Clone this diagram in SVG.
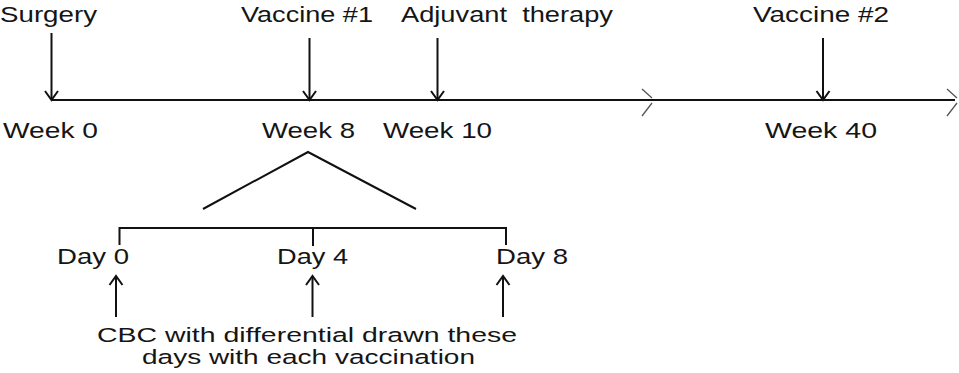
<svg xmlns="http://www.w3.org/2000/svg" width="959" height="373" viewBox="0 0 959 373">
<style>
text{font-family:"Liberation Sans",Arial,sans-serif;font-size:22.5px;fill:#151515}
.note{font-size:20.5px}
.ln{stroke:#111;stroke-width:2;fill:none}
.ar{stroke:#111;stroke-width:2;fill:none;marker-end:url(#ah)}
.brk{stroke:#555;stroke-width:1.3;fill:none}
</style>
<defs>
<marker id="ah" markerUnits="userSpaceOnUse" markerWidth="20" markerHeight="20" viewBox="-10 -10 20 20" refX="0" refY="0" orient="auto">
<path d="M-9,-6.5 L0,0 L-9,6.5" fill="none" stroke="#111" stroke-width="2"/>
</marker>
</defs>
<rect width="959" height="373" fill="#fff"/>
<g id="connectors">
<line class="ln" x1="52" y1="100" x2="955" y2="100"/>
<path class="brk" d="M642,89 L652,98 M652,103 L642,116"/>
<path class="brk" d="M947,89 L957,98 M957,103 L947,116"/>
<line class="ar" x1="51.5" y1="33" x2="51.5" y2="100"/>
<line class="ar" x1="309.5" y1="38" x2="309.5" y2="100"/>
<line class="ar" x1="437.5" y1="38" x2="437.5" y2="100"/>
<line class="ar" x1="823" y1="38" x2="823" y2="100"/>
<polyline class="ln" points="203,209 308,152 416,209"/>
<polyline class="ln" points="119.5,245 119.5,228 506,228 506,245"/>
<line class="ln" x1="313" y1="228" x2="313" y2="246"/>
<line class="ar" x1="116" y1="317" x2="116" y2="276"/>
<line class="ar" x1="312.5" y1="317" x2="312.5" y2="276"/>
<line class="ar" x1="503" y1="317" x2="503" y2="276"/>
</g>
<g id="surgery"><text x="0" y="22" textLength="97" lengthAdjust="spacingAndGlyphs">Surgery</text></g>
<g id="vaccine1"><text x="241" y="22" textLength="132" lengthAdjust="spacingAndGlyphs">Vaccine #1</text></g>
<g id="adjuvant"><text x="401" y="22" textLength="212" lengthAdjust="spacingAndGlyphs" xml:space="preserve">Adjuvant  therapy</text></g>
<g id="vaccine2"><text x="753" y="22" textLength="136" lengthAdjust="spacingAndGlyphs">Vaccine #2</text></g>
<g id="week0"><text x="3" y="138" textLength="95" lengthAdjust="spacingAndGlyphs">Week 0</text></g>
<g id="week8"><text x="262" y="138" textLength="93" lengthAdjust="spacingAndGlyphs">Week 8</text></g>
<g id="week10"><text x="383" y="138" textLength="109" lengthAdjust="spacingAndGlyphs">Week 10</text></g>
<g id="week40"><text x="765" y="138" textLength="112" lengthAdjust="spacingAndGlyphs">Week 40</text></g>
<g id="day0"><text x="57" y="264" textLength="72" lengthAdjust="spacingAndGlyphs">Day 0</text></g>
<g id="day4"><text x="277" y="264" textLength="71" lengthAdjust="spacingAndGlyphs">Day 4</text></g>
<g id="day8"><text x="496" y="264" textLength="72" lengthAdjust="spacingAndGlyphs">Day 8</text></g>
<g id="cbc-note">
<text class="note" x="97" y="342" textLength="420" lengthAdjust="spacingAndGlyphs">CBC with differential drawn these</text>
<text class="note" x="142" y="364" textLength="333" lengthAdjust="spacingAndGlyphs">days with each vaccination</text>
</g>
</svg>
